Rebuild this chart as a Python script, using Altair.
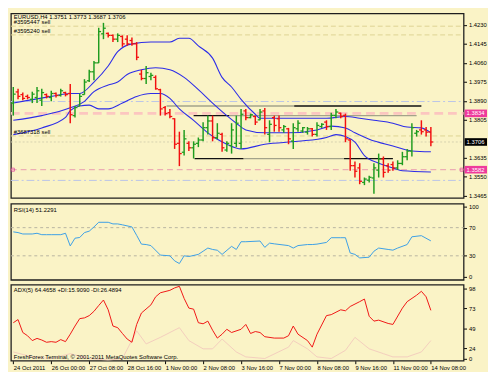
import altair as alt
import pandas as pd

# ---------------- data ----------------
opens = [1.3880,1.3930,1.3918,1.3910,1.3897,1.3905,1.3893,1.3918,1.3905,1.3923,
         1.3914,1.3927,1.3923,1.3824,1.3867,1.3918,1.3980,1.4020,1.4060,1.4190,
         1.4192,1.4183,1.4166,1.4178,1.4166,1.4160,1.4145,1.4010,1.3990,1.3999,
         1.3995,1.3940,1.3860,1.3837,1.3810,1.3700,1.3660,1.3700,1.3680,1.3700,
         1.3715,1.3770,1.3800,1.3725,1.3740,1.3670,1.3690,1.3700,1.3700,1.3845,
         1.3815,1.3820,1.3805,1.3845,1.3740,1.3815,1.3810,1.3760,1.3765,1.3710,
         1.3765,1.3755,1.3750,1.3765,1.3740,1.3775,1.3795,1.3775,1.3825,1.3835,
         1.3825,1.3715,1.3600,1.3590,1.3525,1.3535,1.3545,1.3580,1.3630,1.3600,
         1.3605,1.3590,1.3610,1.3640,1.3665,1.3745,1.3760,1.3760,1.3751]
highs = [1.3952,1.3944,1.3927,1.3918,1.3931,1.3952,1.3944,1.3923,1.3935,1.3927,
         1.3944,1.3931,1.3965,1.3867,1.3923,1.3987,1.4029,1.4068,1.4217,1.4239,
         1.4196,1.4187,1.4192,1.4183,1.4183,1.4174,1.4153,1.4029,1.4046,1.4016,
         1.4004,1.3944,1.3867,1.3854,1.3812,1.3752,1.3760,1.3709,1.3709,1.3726,
         1.3794,1.3824,1.3824,1.3790,1.3747,1.3709,1.3790,1.3824,1.3854,1.3854,
         1.3833,1.3824,1.3854,1.3858,1.3803,1.3824,1.3824,1.3782,1.3769,1.3790,
         1.3803,1.3773,1.3773,1.3769,1.3794,1.3790,1.3803,1.3837,1.3854,1.3837,
         1.3833,1.3718,1.3619,1.3611,1.3547,1.3555,1.3611,1.3654,1.3641,1.3611,
         1.3619,1.3624,1.3662,1.3675,1.3790,1.3760,1.3803,1.3773,1.3773]
lows = [1.3824,1.3897,1.3893,1.3897,1.3880,1.3880,1.3867,1.3901,1.3888,1.3905,
        1.3910,1.3910,1.3790,1.3816,1.3867,1.3918,1.3974,1.3982,1.4059,1.4166,
        1.4174,1.4153,1.4153,1.4132,1.4136,1.4136,1.4072,1.3982,1.3965,1.3982,
        1.3940,1.3824,1.3824,1.3812,1.3675,1.3598,1.3645,1.3666,1.3632,1.3683,
        1.3709,1.3739,1.3709,1.3718,1.3662,1.3662,1.3654,1.3683,1.3675,1.3803,
        1.3812,1.3782,1.3803,1.3739,1.3705,1.3752,1.3752,1.3747,1.3696,1.3675,
        1.3752,1.3747,1.3739,1.3730,1.3730,1.3769,1.3760,1.3760,1.3812,1.3812,
        1.3705,1.3577,1.3547,1.3517,1.3513,1.3525,1.3474,1.3547,1.3547,1.3568,
        1.3577,1.3581,1.3602,1.3624,1.3641,1.3730,1.3739,1.3730,1.3687]
closes = [1.3920,1.3910,1.3901,1.3905,1.3920,1.3935,1.3927,1.3910,1.3923,1.3914,
          1.3935,1.3918,1.3828,1.3860,1.3910,1.3974,1.4020,1.4060,1.4200,1.4215,
          1.4183,1.4166,1.4183,1.4145,1.4145,1.4145,1.4085,1.3990,1.4016,1.4004,
          1.3944,1.3854,1.3833,1.3820,1.3696,1.3654,1.3720,1.3680,1.3696,1.3715,
          1.3770,1.3800,1.3725,1.3745,1.3680,1.3700,1.3760,1.3790,1.3830,1.3815,
          1.3828,1.3795,1.3840,1.3770,1.3785,1.3780,1.3770,1.3775,1.3720,1.3770,
          1.3790,1.3770,1.3765,1.3740,1.3780,1.3785,1.3775,1.3825,1.3840,1.3820,
          1.3720,1.3600,1.3575,1.3530,1.3540,1.3548,1.3590,1.3630,1.3570,1.3580,
          1.3590,1.3610,1.3640,1.3665,1.3770,1.3752,1.3752,1.3750,1.3706]

upper_idx = [0, 8, 12, 14, 17, 20, 22, 25, 29, 33, 35, 37, 39, 42, 44, 46, 48, 51, 52, 66, 70, 73, 76, 80, 83, 86, 88]
upper_val = [1.3880, 1.3910, 1.3923, 1.3923, 1.3974, 1.4046, 1.4110, 1.4145, 1.4153, 1.4153, 1.4170, 1.4170, 1.4136,
             1.4081, 1.3995, 1.3952, 1.3897, 1.3830, 1.3812, 1.3812, 1.3820, 1.3812, 1.3803, 1.3790, 1.3773, 1.3769, 1.3747]
middle_idx = [0, 6, 12, 15, 17, 20, 22, 24, 27, 30, 33, 36, 39, 42, 45, 47, 49, 53, 58, 64, 67, 70, 72, 75, 80, 84, 88]
middle_val = [1.3803, 1.3824, 1.3859, 1.3888, 1.3931, 1.3961, 1.3974, 1.4008, 1.4029, 1.4038, 1.4029, 1.3995, 1.3940,
              1.3880, 1.3824, 1.3790, 1.3760, 1.3747, 1.3747, 1.3760, 1.3777, 1.3769, 1.3747, 1.3718, 1.3688, 1.3666, 1.3662]
lower_idx = [0, 6, 11, 12, 14, 16, 18, 20, 23, 26, 29, 31, 33, 35, 38, 41, 43, 45, 48, 53, 60, 66, 68, 70, 72, 74, 77, 80, 82, 88]
lower_val = [1.3739, 1.3769, 1.3816, 1.3846, 1.3867, 1.3871, 1.3854, 1.3854, 1.3880, 1.3910, 1.3923, 1.3923, 1.3901,
             1.3854, 1.3803, 1.3747, 1.3718, 1.3696, 1.3675, 1.3696, 1.3709, 1.3726, 1.3739, 1.3730, 1.3705, 1.3645,
             1.3611, 1.3590, 1.3577, 1.3572]

rsi_idx = [0, 1, 2, 4, 5, 6, 7, 8, 10, 11, 12, 13, 14, 15, 16, 17, 18, 20, 21, 22, 23, 25, 26, 27, 28, 29, 31, 33, 34, 35,
           36, 37, 39, 40, 41, 42, 43, 44, 46, 47, 48, 49, 52, 53, 54, 55, 58, 59, 60, 62, 63, 64, 66, 67, 69, 70, 71, 72,
           73, 75, 76, 77, 79, 80, 81, 83, 84, 86, 88]
rsi_val = [64, 63, 61, 61, 62, 60, 60, 60, 60, 62, 44, 55, 56, 63, 65, 71, 77.6, 77.6, 75.3, 75.3, 74, 71, 59, 46.6, 46,
           44.5, 31, 30, 22.8, 19, 30, 29, 32, 36.5, 41, 39, 37.9, 32, 43.4, 39, 50, 50, 51, 42, 48, 47, 44.5, 41, 44.5,
           46, 46, 46.6, 49, 55.7, 55.7, 55.7, 34, 32, 27, 28, 36.5, 41, 39, 38, 41, 46, 57, 58.6, 51.2]

adx_idx = [0, 1, 2, 3, 4, 5, 6, 7, 8, 9, 10, 11, 12, 13, 14, 15, 16, 17, 18, 19, 20, 21, 22, 23, 24, 25, 26, 27, 29, 30,
           31, 33, 34, 35, 36, 37, 38, 39, 40, 41, 42, 43, 44, 45, 46, 48, 49, 50, 51, 52, 53, 55, 57, 58, 59, 60, 62,
           63, 64, 66, 67, 69, 70, 71, 73, 74, 75, 76, 77, 79, 80, 82, 83, 85, 86, 87, 88]
adx_val = [55.9, 59.8, 43.8, 39.8, 33.8, 36.5, 34.5, 31.7, 32.5, 31.7, 35, 32.5, 41.7, 51.8, 61, 61.9, 64.7, 70, 77.2,
           84, 71.9, 51.8, 49.8, 42.6, 35.7, 31.7, 53.8, 67.9, 78, 88, 93, 96, 99, 101, 86, 74, 72.7, 55.9, 54.6, 57.9,
           46.6, 36.9, 41.7, 47.8, 43.8, 47.8, 53.8, 42.6, 45, 43.8, 38.6, 36.9, 36.9, 39.8, 51.8, 41.7, 33.8, 25.7, 41.7,
           64.7, 65.9, 71.9, 70.7, 76, 82, 85.2, 63.9, 57.9, 59.1, 55, 53.8, 74, 82, 90, 94.8, 88, 71.2]
di_idx = [0, 4, 8, 12, 16, 20, 23, 26, 28, 31, 35, 37, 40, 42, 44, 47, 49, 53, 58, 59, 62, 64, 67, 70, 72, 75, 78, 80,
          83, 86, 88]
di_val = [19.7, 13.6, 11.6, 17.6, 11.6, 9.6, 11.6, 45.8, 29.7, 37.8, 49.8, 33.8, 23.6, 23.6, 35.7, 19.7, 13.6, 11.6,
          25.7, 33.8, 23.6, 13.6, 11.6, 21.7, 37.8, 23.6, 17.6, 13.6, 13.6, 19.7, 33.8]

# 1.3720 sits under the bid tag in the reference, so it is not listed
price_ticks = [1.4230, 1.4145, 1.4060, 1.3975, 1.3890, 1.3805, 1.3635, 1.3550, 1.3465]
rsi_ticks = [0, 30, 70, 100]
rsi_levels = [70, 30]
adx_ticks = [11.2, 24.5, 49, 73.5, 98]
adx_tick_labels = ["0", "24", "49", "73", "98"]
date_idx = [0, 8, 16, 24, 32, 40, 48, 56, 64, 72, 80, 88]
date_labels = ["24 Oct 2011", "26 Oct 00:00", "27 Oct 08:00", "28 Oct 16:00", "1 Nov 00:00", "2 Nov 08:00",
               "3 Nov 16:00", "7 Nov 00:00", "8 Nov 08:00", "9 Nov 16:00", "11 Nov 00:00", "14 Nov 08:00"]

order_names = ["#3595447 sell", "#3595240 sell", "#3687318 sell"]
order_prices = [1.4224, 1.4185, 1.3733]
bluedash_prices = [1.3887, 1.3534]
alert_price = 1.3834
alert2_price = 1.3582
bid_price = 1.3706
seg_price = [1.3867, 1.3867, 1.3824, 1.3824, 1.3632, 1.3632, 1.3632]
seg_start = [32.3, 59.2, 38.0, 45.5, 38.2, 48.5, 69.7]
seg_end = [59.2, 86.0, 45.5, 85.0, 48.5, 69.7, 80.0]
seg_kind = ["gray", "black", "black", "gray", "black", "gray", "black"]

symbol_title = "EURUSD,H4  %.4f %.4f %.4f %.4f" % (opens[-1], highs[-1], lows[-1], closes[-1])
rsi_title = "RSI(14) 51.2291"
adx_title = "ADX(5) 64.4658 +DI:15.9090 -DI:26.4894"
copyright_text = "FreshForex Terminal, \u00a9 2001-2011 MetaQuotes Software Corp."

# ---------------- styling ----------------
BG = "#faf3c6"
FONT = "Liberation Sans"
FS = 6
W = 464
H_MAIN, H_SUB = 189, 78
GREEN, RED = "#1f9c1f", "#f21010"

xs = alt.Scale(domain=[-0.5, 94.9], nice=False, zero=False)
ys = alt.Scale(domain=[1.3456, 1.4281], nice=False, zero=False)
rs = alt.Scale(domain=[-4.1, 104], nice=False, zero=False)
ascale = alt.Scale(domain=[8.8, 103], nice=False, zero=False)

def axis_right(**kw):
    return alt.Axis(orient="right", title=None, grid=False, domain=False, labelFont=FONT, labelFontSize=FS,
                    labelColor="#000", tickColor="#000", tickSize=3, labelPadding=2, labelOverlap=False,
                    labelFlush=False, **kw)

price_axis = axis_right(values=price_ticks, format=".4f")
rsi_axis = axis_right(values=rsi_ticks, format="d")
adx_expr = " : ".join("datum.value == %s ? '%s'" % (v, l) for v, l in zip(adx_ticks, adx_tick_labels)) + " : ''"
adx_axis = axis_right(values=adx_ticks, labelExpr=adx_expr)
date_expr = " : ".join("datum.value == %d ? '%s'" % (v, l) for v, l in zip(date_idx, date_labels)) + " : ''"
date_axis = alt.Axis(orient="bottom", values=date_idx, labelExpr=date_expr, title=None, grid=False, domain=False,
                     labelFont=FONT, labelFontSize=FS, labelColor="#000", tickColor="#000", tickSize=3,
                     labelAlign="left", labelPadding=1, labelOverlap=False, labelFlush=False)

X = lambda f: alt.X(f, scale=xs, axis=None)
Y = lambda f: alt.Y(f, scale=ys, axis=price_axis)

# ---------------- main price panel ----------------
bars = pd.DataFrame({"i": list(range(len(opens))), "open": opens, "high": highs, "low": lows, "close": closes})
up = bars[bars["close"] >= bars["open"]]
down = bars[bars["close"] < bars["open"]]

def ohlc(df, col):
    b = alt.Chart(df)
    hl = b.mark_rule(strokeWidth=1.5, color=col).encode(x=X("i:Q"), y=Y("low:Q"), y2="high:Q")
    op = b.transform_calculate(xl="datum.i - 0.5").mark_rule(strokeWidth=1.3, color=col).encode(
        x=X("xl:Q"), x2="i:Q", y=Y("open:Q"))
    cl = b.transform_calculate(xr="datum.i + 0.5").mark_rule(strokeWidth=1.3, color=col).encode(
        x=X("i:Q"), x2="xr:Q", y=Y("close:Q"))
    return [hl, op, cl]

bands = pd.concat([
    pd.DataFrame({"i": upper_idx, "v": upper_val, "band": "upper"}),
    pd.DataFrame({"i": middle_idx, "v": middle_val, "band": "middle"}),
    pd.DataFrame({"i": lower_idx, "v": lower_val, "band": "lower"}),
])
band_lines = alt.Chart(bands).mark_line(strokeWidth=1.1, color="#2c2ce8", interpolate="monotone").encode(
    x=X("i:Q"), y=Y("v:Q"), detail="band:N")

def hline(prices, color, width, dash):
    df = pd.DataFrame({"p": prices, "a": -0.5, "b": 94.9})
    return alt.Chart(df).mark_rule(color=color, strokeWidth=width, strokeDash=dash).encode(
        x=X("a:Q"), x2="b:Q", y=Y("p:Q"))

orders_df = pd.DataFrame({"p": order_prices, "name": order_names})
order_lines = hline(order_prices, "#ddd392", 1, [5, 3])
order_text = alt.Chart(orders_df).mark_text(align="left", baseline="bottom", font=FONT, fontSize=FS,
                                            color="#000", dy=-1).encode(x=alt.value(3), y=Y("p:Q"), text="name:N")
blue_lines = hline(bluedash_prices, "#b9c3e8", 1, [8, 3, 2, 3])
alert_line = hline([alert_price], "#fcc6c0", 3, [9, 5])
alert2_line = hline([alert2_price], "#e89ab0", 1, [6, 4])
bid_line = hline([bid_price], "#d6d2b0", 1, [2, 2])

seg_df = pd.DataFrame({"p": seg_price, "a": seg_start, "b": seg_end, "kind": seg_kind})
def segs(kind, col):
    return alt.Chart(seg_df[seg_df.kind == kind]).mark_rule(strokeWidth=1.3, color=col).encode(
        x=X("a:Q"), x2="b:Q", y=Y("p:Q"))
seg_gray = segs("gray", "#a3a38a")
seg_black = segs("black", "#111111")

marker_df = pd.DataFrame({"p": [alert2_price]})
markers_l = alt.Chart(marker_df).mark_square(size=10, filled=False, color="#e0389a", strokeWidth=1).encode(
    x=alt.value(2), y=Y("p:Q"))
markers_r = alt.Chart(marker_df).mark_square(size=10, filled=False, color="#e0389a", strokeWidth=1).encode(
    x=alt.value(W - 2), y=Y("p:Q"))

def tag(price, fill):
    df = pd.DataFrame({"p": [price], "label": ["%.4f" % price]})
    r = alt.Chart(df).transform_calculate(t="datum.p + 0.0017", b="datum.p - 0.0017").mark_rect(color=fill).encode(
        x=alt.value(W + 1), x2=alt.value(W + 24), y=Y("t:Q"), y2="b:Q")
    t = alt.Chart(df).mark_text(align="left", baseline="middle", font=FONT, fontSize=FS, color="#ffffff").encode(
        x=alt.value(W + 3), y=Y("p:Q"), text="label:N")
    return [r, t]

title_main = alt.Chart(pd.DataFrame({"t": [symbol_title]})).mark_text(
    align="left", baseline="top", font=FONT, fontSize=FS, color="#000").encode(
    x=alt.value(3), y=alt.value(1), text="t:N")

main = alt.layer(alert_line, alert2_line, blue_lines, order_lines, bid_line, seg_gray, seg_black, band_lines,
                 *ohlc(up, GREEN), *ohlc(down, RED), order_text, title_main, markers_l, markers_r,
                 *tag(alert_price, "#ee3a9c"), *tag(bid_price, "#000000"), *tag(alert2_price, "#ee3a9c")
                 ).properties(width=W, height=H_MAIN)

# ---------------- RSI panel ----------------
rsi_df = pd.DataFrame({"i": rsi_idx, "v": rsi_val})
rsi_line = alt.Chart(rsi_df).mark_line(color="#3a9ee6", strokeWidth=1).encode(
    x=alt.X("i:Q", scale=xs, axis=None), y=alt.Y("v:Q", scale=rs, axis=rsi_axis))
rsi_lv = alt.Chart(pd.DataFrame({"v": rsi_levels, "a": -0.5, "b": 94.9})).mark_rule(
    color="#b8b4a0", strokeWidth=1, strokeDash=[3, 3]).encode(
    x=alt.X("a:Q", scale=xs, axis=None), x2="b:Q", y=alt.Y("v:Q", scale=rs, axis=rsi_axis))
rsi_t = alt.Chart(pd.DataFrame({"t": [rsi_title]})).mark_text(
    align="left", baseline="top", font=FONT, fontSize=FS, color="#000").encode(
    x=alt.value(3), y=alt.value(3), text="t:N")
rsi = alt.layer(rsi_lv, rsi_line, rsi_t).properties(width=W, height=H_SUB)

# ---------------- ADX panel ----------------
adx_df = pd.DataFrame({"i": adx_idx, "v": adx_val})
di_df = pd.DataFrame({"i": di_idx, "v": di_val})
adx_line = alt.Chart(adx_df).mark_line(color="#f01414", strokeWidth=1).encode(
    x=alt.X("i:Q", scale=xs, axis=date_axis), y=alt.Y("v:Q", scale=ascale, axis=adx_axis))
di_line = alt.Chart(di_df).mark_line(color="#f3cdbd", strokeWidth=1, clip=True).encode(
    x=alt.X("i:Q", scale=xs, axis=date_axis), y=alt.Y("v:Q", scale=ascale, axis=adx_axis))
adx_t = alt.Chart(pd.DataFrame({"t": [adx_title]})).mark_text(
    align="left", baseline="top", font=FONT, fontSize=FS, color="#000").encode(
    x=alt.value(3), y=alt.value(3), text="t:N")
copy_t = alt.Chart(pd.DataFrame({"t": [copyright_text]})).mark_text(
    align="left", baseline="bottom", font=FONT, fontSize=FS, color="#000").encode(
    x=alt.value(3), y=alt.value(H_SUB - 1), text="t:N")
adx = alt.layer(di_line, adx_line, adx_t, copy_t).properties(width=W, height=H_SUB)

chart = alt.vconcat(main, rsi, adx, spacing=3).properties(
    padding=0, background=BG
).configure_view(stroke="#1e1e1e", strokeWidth=1.3, fill=BG).configure_axis(labelFont=FONT)

chart.save("out.html", embed_options={"renderer": "svg", "actions": False})
